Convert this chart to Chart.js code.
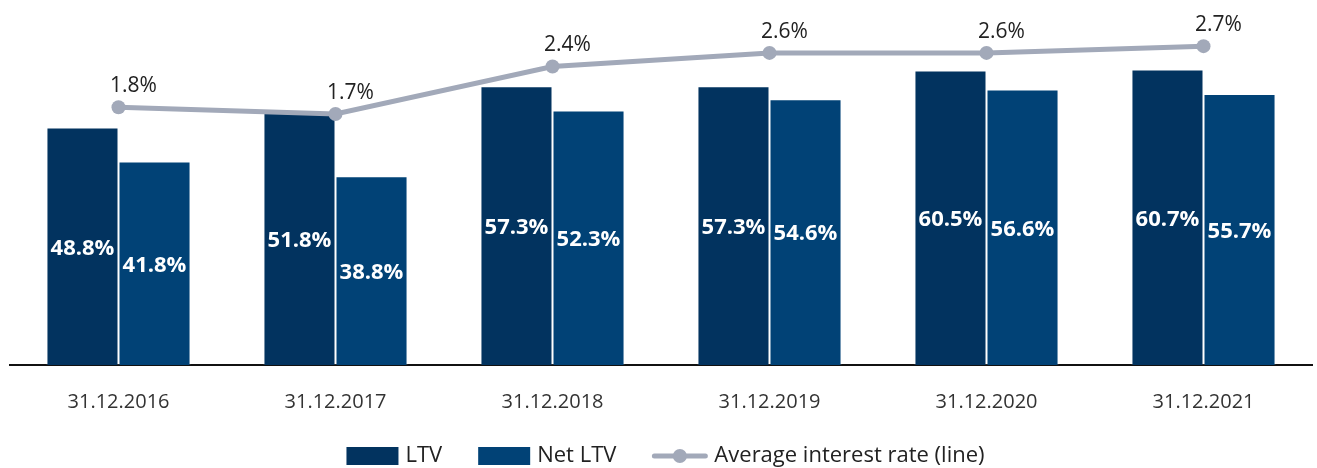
<!DOCTYPE html>
<html>
<head>
<meta charset="utf-8">
<script src="https://cdn.jsdelivr.net/npm/chart.js@4.4.1/dist/chart.umd.min.js"></script>
<style>
  html, body { margin: 0; padding: 0; background: #fff; }
  #wrap { width: 1317px; height: 468px; }
</style>
</head>
<body>
<div id="wrap"><canvas id="chart"></canvas></div>
<script>
const categories = ['31.12.2016', '31.12.2017', '31.12.2018', '31.12.2019', '31.12.2020', '31.12.2021'];
const ltv = [48.8, 51.8, 57.3, 57.3, 60.5, 60.7];
const netLtv = [41.8, 38.8, 52.3, 54.6, 56.6, 55.7];
const avgRate = [1.8, 1.7, 2.4, 2.6, 2.6, 2.7];

const LTV_COLOR = '#02335f';
const NET_COLOR = '#014276';
const LINE_COLOR = '#a2a9b9';

// draws value labels: white bold inside bars, dark above line points
const valueLabels = {
  id: 'valueLabels',
  afterDatasetsDraw(chart) {
    const ctx = chart.ctx;
    ctx.save();
    ctx.textAlign = 'center';
    ctx.textBaseline = 'middle';
    chart.data.datasets.forEach((ds, i) => {
      const meta = chart.getDatasetMeta(i);
      meta.data.forEach((el, j) => {
        const v = ds.data[j].toFixed(1) + '%';
        if (ds.type === 'line') {
          ctx.font = '21px "Open Sans"';
          ctx.fillStyle = '#222';
          ctx.fillText(v, el.x + 15, el.y - 21);
        } else {
          ctx.font = 'bold 22px "Open Sans"';
          ctx.fillStyle = '#fff';
          ctx.fillText(v, el.x, (el.y + el.base) / 2 + 2);
        }
      });
    });
    ctx.restore();
  }
};

// bottom legend: boxes for the bars, line with a dot for the rate
const bottomLegend = {
  id: 'bottomLegend',
  afterDraw(chart) {
    const ctx = chart.ctx;
    const items = [1, 2, 0].map((i) => chart.data.datasets[i]);
    const markW = [52, 52, 55];
    const gap = 7, spacing = 36, cy = 456;
    ctx.save();
    ctx.font = '22px "Open Sans"';
    ctx.textBaseline = 'middle';
    const widths = items.map((ds, k) => markW[k] + gap + ctx.measureText(ds.label).width);
    const total = widths.reduce((a, b) => a + b, 0) + spacing * (items.length - 1);
    let x = chart.width / 2 - total / 2 + 7;
    items.forEach((ds, k) => {
      if (ds.type === 'line') {
        ctx.strokeStyle = ds.borderColor;
        ctx.lineWidth = 5;
        ctx.lineCap = 'round';
        ctx.beginPath();
        ctx.moveTo(x + 2, cy);
        ctx.lineTo(x + markW[k] - 2, cy);
        ctx.stroke();
        ctx.fillStyle = ds.borderColor;
        ctx.beginPath();
        ctx.arc(x + markW[k] / 2, cy, 7, 0, Math.PI * 2);
        ctx.fill();
      } else {
        ctx.fillStyle = ds.backgroundColor;
        ctx.fillRect(x, cy - 9, markW[k], 18);
      }
      ctx.fillStyle = '#222';
      ctx.fillText(ds.label, x + markW[k] + gap, cy);
      x += widths[k] + spacing;
    });
    ctx.restore();
  }
};

new Chart(document.getElementById('chart'), {
  type: 'bar',
  data: {
    labels: categories,
    datasets: [
      {
        type: 'line',
        label: 'Average interest rate (line)',
        data: avgRate,
        yAxisID: 'y1',
        borderColor: LINE_COLOR,
        backgroundColor: LINE_COLOR,
        borderWidth: 5,
        pointRadius: 7,
        pointHoverRadius: 7,
        pointBackgroundColor: LINE_COLOR,
        pointBorderWidth: 0,
        tension: 0,
        order: 0
      },
      {
        label: 'LTV',
        data: ltv,
        backgroundColor: LTV_COLOR,
        borderColor: 'rgba(255,255,255,0.25)',
        borderWidth: 1,
        yAxisID: 'y',
        order: 1
      },
      {
        label: 'Net LTV',
        data: netLtv,
        backgroundColor: NET_COLOR,
        borderColor: 'rgba(255,255,255,0.25)',
        borderWidth: 1,
        yAxisID: 'y',
        order: 1
      }
    ]
  },
  options: {
    responsive: true,
    maintainAspectRatio: false,
    animation: false,
    layout: { autoPadding: false, padding: { left: 10, right: 5, top: 0, bottom: 0 } },
    datasets: {
      bar: { categoryPercentage: 0.664, barPercentage: 1 }
    },
    scales: {
      x: {
        grid: { display: false },
        border: { display: true, color: '#111', width: 2 },
        ticks: {
          color: '#333',
          font: { family: 'Open Sans', size: 20 },
          padding: 17
        },
        afterFit(scale) {
          scale.height = 103;
        }
      },
      y: {
        display: false,
        min: 0,
        max: 75
      },
      y1: {
        display: false,
        min: -2,
        max: 3.38
      }
    },
    plugins: {
      tooltip: { enabled: false },
      legend: { display: false }
    }
  },
  plugins: [valueLabels, bottomLegend]
});
</script>
</body>
</html>
